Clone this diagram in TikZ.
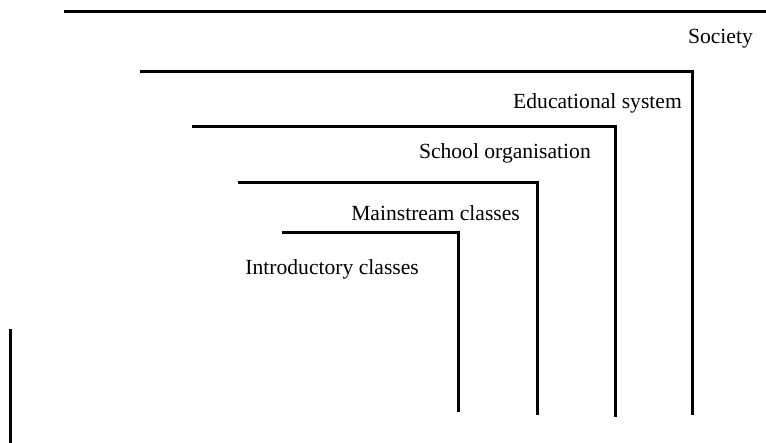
\documentclass[tikz,border=0pt]{standalone}
\usepackage{fontspec}
\setmainfont{Liberation Serif}
\begin{document}
\begin{tikzpicture}[x=1pt,y=-1pt,
  bar/.style={line width=3pt,line cap=butt,line join=miter},
  lbl/.style={anchor=base east,inner sep=0pt,font=\fontsize{21.6}{25}\selectfont}]
\useasboundingbox (0,0) rectangle (766,443);
% levels
\coordinate (s1) at (64,12);   \coordinate (s2) at (766,12);
\coordinate (e1) at (140,72);  \coordinate (e2) at (692,72);  \coordinate (e3) at (692,415);
\coordinate (o1) at (192,127); \coordinate (o2) at (615,127); \coordinate (o3) at (615,417);
\coordinate (m1) at (238,183); \coordinate (m2) at (537,183); \coordinate (m3) at (537,415);
\coordinate (i1) at (282,233); \coordinate (i2) at (458,233); \coordinate (i3) at (458,412);
\coordinate (l1) at (10,329);  \coordinate (l2) at (10,443);
\draw[bar] (s1) -- (s2);
\draw[bar] (e1) -- (e2) -- (e3);
\draw[bar] (o1) -- (o2) -- (o3);
\draw[bar] (m1) -- (m2) -- (m3);
\draw[bar] (i1) -- (i2) -- (i3);
\draw[bar] (l1) -- (l2);
% labels
\node[lbl] (society) at (753,44) {Society};
\node[lbl] (edu) at (682,109) {Educational system};
\node[lbl] (school) at (591,159) {School organisation};
\node[lbl] (main) at (520,221) {Mainstream classes};
\node[lbl] (intro) at (419,275) {Introductory classes};
\end{tikzpicture}
\end{document}
